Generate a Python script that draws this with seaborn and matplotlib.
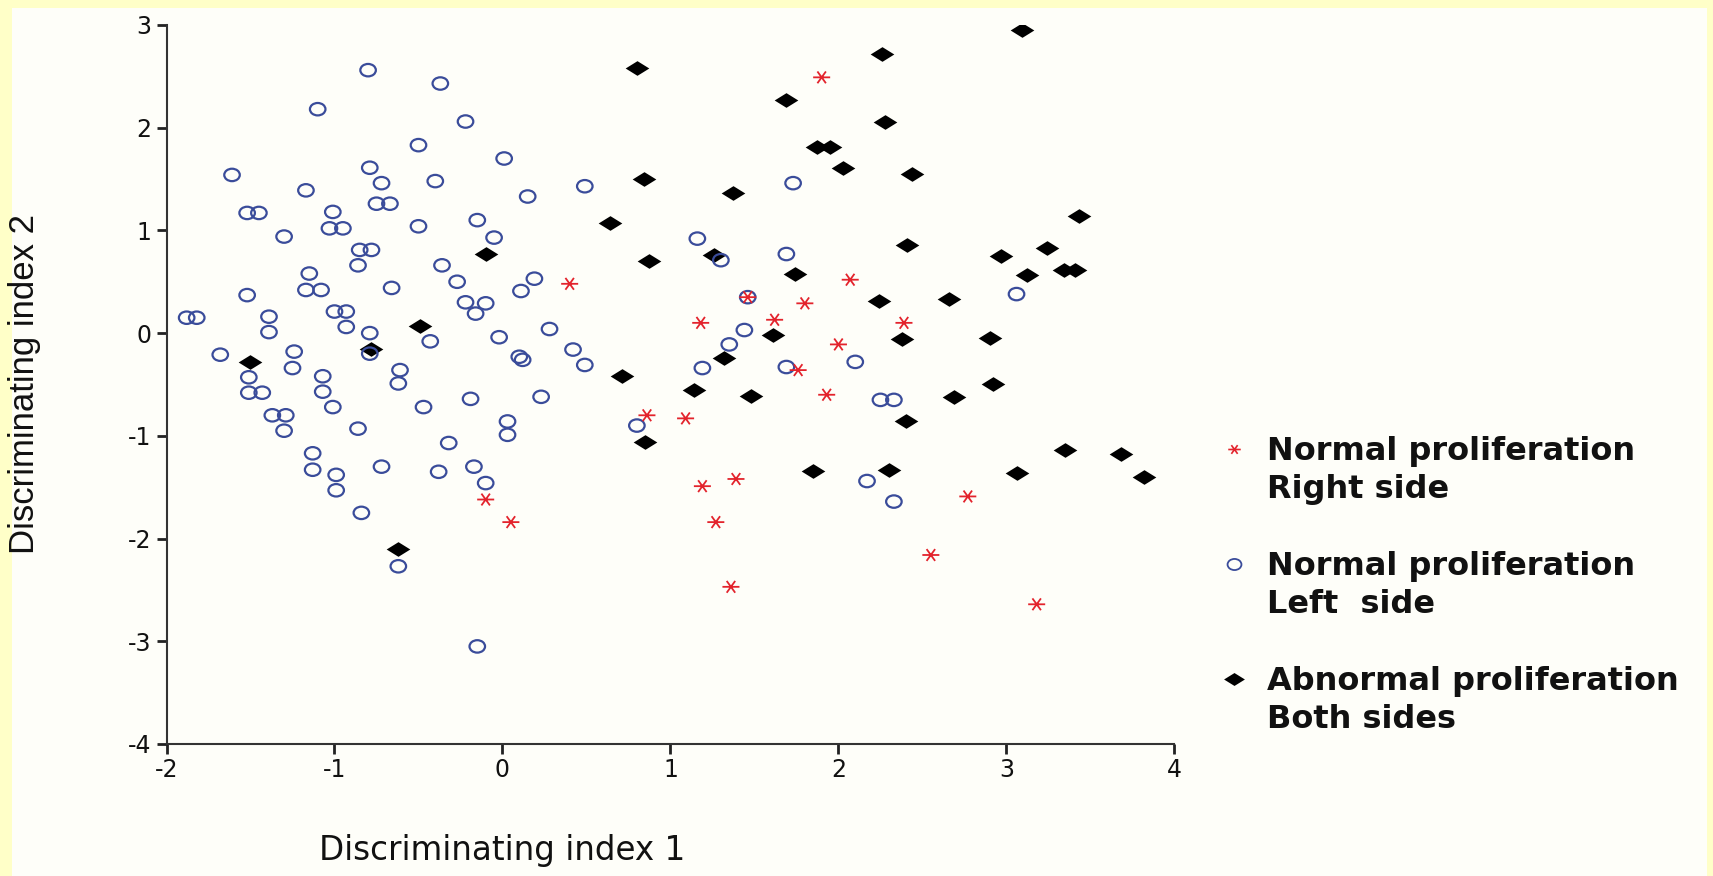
import numpy as np
import pandas as pd
import matplotlib
matplotlib.use("Agg")
import matplotlib.pyplot as plt
from matplotlib.path import Path
from matplotlib.markers import MarkerStyle
from matplotlib.patches import Rectangle
from matplotlib.lines import Line2D
import seaborn as sns

# Normal proliferation - right side (red asterisks)
right_x = [1.90, 0.40, 2.07, 1.46, 1.80, 1.18, 1.62, 2.39, 2.00, 1.76, 1.93,
           0.86, 1.09, -0.10, 0.05, 1.19, 1.39, 1.27, 2.77, 2.55, 1.36, 3.18]
right_y = [2.49, 0.48, 0.52, 0.35, 0.29, 0.10, 0.13, 0.10, -0.11, -0.36, -0.60,
           -0.80, -0.83, -1.62, -1.84, -1.49, -1.42, -1.84, -1.59, -2.16, -2.47, -2.64]

# Normal proliferation - left side (blue open circles)
left_x = [-0.80, -0.37, -1.10, -0.22, -0.50, 0.01, -1.61, -0.79, -0.72, -0.40,
          0.49, -1.17, 0.15, -1.52, -1.45, -0.75, -0.67, -1.01, -1.03, -0.95,
          -0.50, -0.15, -1.30, -0.05, -0.85, -0.78, -0.86, -1.15, -0.36, -0.27,
          -0.66, 0.19, 0.11, -1.17, -1.08, -1.52, -0.22, -0.10, -0.16, -1.00,
          -0.93, -1.88, -1.82, -1.39, -1.39, -0.93, -0.79, 0.28, -0.02, -0.43,
          -1.68, -1.24, -0.79, 0.10, 0.12, 0.42, 0.49, -1.25, -1.51, -0.61,
          -1.07, -0.62, -1.51, -1.43, -1.07, -0.19, 0.23, -1.01, -0.47, -1.37,
          -1.29, -1.30, -0.86, 0.03, 0.03, -0.32, -1.13, -1.13, -0.99, -0.99,
          -0.72, -0.38, -0.17, -0.10, -0.84, -0.62, -0.15,
          1.73, 1.16, 1.30, 1.69, 1.46, 1.44, 1.35, 1.19, 1.69, 2.10, 2.25,
          2.33, 0.80, 3.06, 2.17, 2.33]
left_y = [2.56, 2.43, 2.18, 2.06, 1.83, 1.70, 1.54, 1.61, 1.46, 1.48,
          1.43, 1.39, 1.33, 1.17, 1.17, 1.26, 1.26, 1.18, 1.02, 1.02,
          1.04, 1.10, 0.94, 0.93, 0.81, 0.81, 0.66, 0.58, 0.66, 0.50,
          0.44, 0.53, 0.41, 0.42, 0.42, 0.37, 0.30, 0.29, 0.19, 0.21,
          0.21, 0.15, 0.15, 0.16, 0.01, 0.06, 0.00, 0.04, -0.04, -0.08,
          -0.21, -0.18, -0.20, -0.23, -0.26, -0.16, -0.31, -0.34, -0.43, -0.36,
          -0.42, -0.49, -0.58, -0.58, -0.57, -0.64, -0.62, -0.72, -0.72, -0.80,
          -0.80, -0.95, -0.93, -0.86, -0.99, -1.07, -1.17, -1.33, -1.38, -1.53,
          -1.30, -1.35, -1.30, -1.46, -1.75, -2.27, -3.05,
          1.46, 0.92, 0.71, 0.77, 0.35, 0.03, -0.11, -0.34, -0.33, -0.28, -0.65,
          -0.65, -0.90, 0.38, -1.44, -1.64]

# Abnormal proliferation - both sides (black diamonds)
both_x = [-0.10, -0.49, -0.78, -1.50, -0.62, 0.80, 2.26, 3.09, 1.69, 2.28,
          1.87, 1.95, 2.03, 2.44, 0.84, 1.37, 0.64, 3.43, 0.87, 1.26,
          2.41, 2.97, 3.24, 3.12, 3.34, 3.41, 1.74, 2.24, 2.66, 1.61,
          2.38, 2.90, 1.32, 0.71, 1.14, 1.48, 2.69, 2.92, 2.40, 0.85,
          1.85, 2.30, 3.06, 3.35, 3.68, 3.82]
both_y = [0.77, 0.07, -0.15, -0.28, -2.10, 2.58, 2.72, 2.95, 2.27, 2.06,
          1.81, 1.81, 1.61, 1.55, 1.50, 1.36, 1.07, 1.14, 0.70, 0.76,
          0.86, 0.75, 0.83, 0.57, 0.61, 0.61, 0.58, 0.31, 0.33, -0.02,
          -0.06, -0.05, -0.24, -0.42, -0.55, -0.61, -0.62, -0.50, -0.86, -1.06,
          -1.34, -1.33, -1.36, -1.14, -1.18, -1.40]

group_names = ["Right side", "Left side", "Both sides"]
legend_lines = [("Normal proliferation", "Right side"),
                ("Normal proliferation", "Left  side"),
                ("Abnormal proliferation", "Both sides")]
x_ticks = [-2, -1, 0, 1, 2, 3, 4]
y_ticks = [-4, -3, -2, -1, 0, 1, 2, 3]

df = pd.concat([
    pd.DataFrame({"x": right_x, "y": right_y, "group": group_names[0]}),
    pd.DataFrame({"x": left_x, "y": left_y, "group": group_names[1]}),
    pd.DataFrame({"x": both_x, "y": both_y, "group": group_names[2]}),
])

sns.set_style("ticks")
plt.rcParams["font.family"] = ["DejaVu Sans"]
plt.rcParams["axes.unicode_minus"] = False

RED = "#E3232C"
BLUE = "#3A4C9A"

# the original picture is stretched sideways, so markers are wider than tall
diamond = MarkerStyle(Path([(-1, 0), (0, 0.62), (1, 0), (0, -0.62), (-1, 0)],
                           [Path.MOVETO, Path.LINETO, Path.LINETO, Path.LINETO, Path.CLOSEPOLY]))
circ = Path.unit_circle()
oval = MarkerStyle(Path(circ.vertices * np.array([1.0, 0.8]), circ.codes))
star_verts, star_codes = [], []
for ang in [0, 60, 120]:
    dx, dy = np.cos(np.radians(ang)), 0.8 * np.sin(np.radians(ang))
    star_verts += [(-dx, -dy), (dx, dy)]
    star_codes += [Path.MOVETO, Path.LINETO]
asterisk = MarkerStyle(Path(star_verts, star_codes))

fig = plt.figure(figsize=(17.13, 8.76), dpi=100, facecolor="#FFFFC8")
fig.add_artist(Rectangle((12 / 1713, 0), 1695 / 1713, 868 / 876, transform=fig.transFigure,
                         facecolor="#FEFEF9", edgecolor="none", zorder=-10))
ax = fig.add_axes([0.0972, 0.1507, 0.5884, 0.8208])
ax.set_facecolor("none")

sns.scatterplot(data=df[df.group == group_names[0]], x="x", y="y", ax=ax,
                marker=asterisk, s=150, facecolor="none", edgecolor=RED, linewidth=1.3,
                legend=False, zorder=4)
sns.scatterplot(data=df[df.group == group_names[1]], x="x", y="y", ax=ax,
                marker=oval, s=125, facecolor="none", edgecolor=BLUE, linewidth=1.6,
                legend=False, zorder=3)
sns.scatterplot(data=df[df.group == group_names[2]], x="x", y="y", ax=ax,
                marker=diamond, s=290, color="black", edgecolor="black", linewidth=0,
                legend=False, zorder=2)

ax.set_xlim(-2, 4)
ax.set_ylim(-4, 3)
ax.set_xticks(x_ticks)
ax.set_yticks(y_ticks)
ax.tick_params(direction="out", length=7, width=2, labelsize=17, color="#222222",
               labelcolor="#111111")
ax.tick_params(axis="x", pad=3)
ax.tick_params(axis="y", pad=4)
for side in ["top", "right"]:
    ax.spines[side].set_visible(False)
for side in ["left", "bottom"]:
    ax.spines[side].set_linewidth(1.5)
    ax.spines[side].set_color("#333333")

ax.set_xlabel("Discriminating index 1", fontsize=23.5, color="#111111")
ax.set_ylabel("Discriminating index 2", fontsize=25, color="#111111",
              family=["Liberation Sans", "DejaVu Sans"])
ax.xaxis.set_label_coords(0.333, -0.125)
ax.yaxis.set_label_coords(-0.125, 0.5)

# legend: marker sits on the first line of each two-line entry
blank = Line2D([], [], linestyle="none")
handles = [
    Line2D([], [], linestyle="none", marker=asterisk, markersize=9, markeredgecolor=RED,
           markeredgewidth=1.2),
    blank, blank,
    Line2D([], [], linestyle="none", marker=oval, markersize=10, markerfacecolor="none",
           markeredgecolor=BLUE, markeredgewidth=1.3),
    blank, blank,
    Line2D([], [], linestyle="none", marker=diamond, markersize=15, color="black",
           markeredgewidth=0),
    blank,
]
labels = [legend_lines[0][0], legend_lines[0][1], " ",
          legend_lines[1][0], legend_lines[1][1], " ",
          legend_lines[2][0], legend_lines[2][1]]
ax.legend(handles, labels, loc="upper left", bbox_to_anchor=(1224 / 1713, 1 - 436 / 876),
          bbox_transform=fig.transFigure, frameon=False, borderpad=0, borderaxespad=0,
          prop={"weight": "bold", "size": 23}, labelspacing=0.23,
          handletextpad=0.75, handlelength=0.6, labelcolor="#111111")

fig.savefig("out.png", dpi=100, facecolor=fig.get_facecolor())
